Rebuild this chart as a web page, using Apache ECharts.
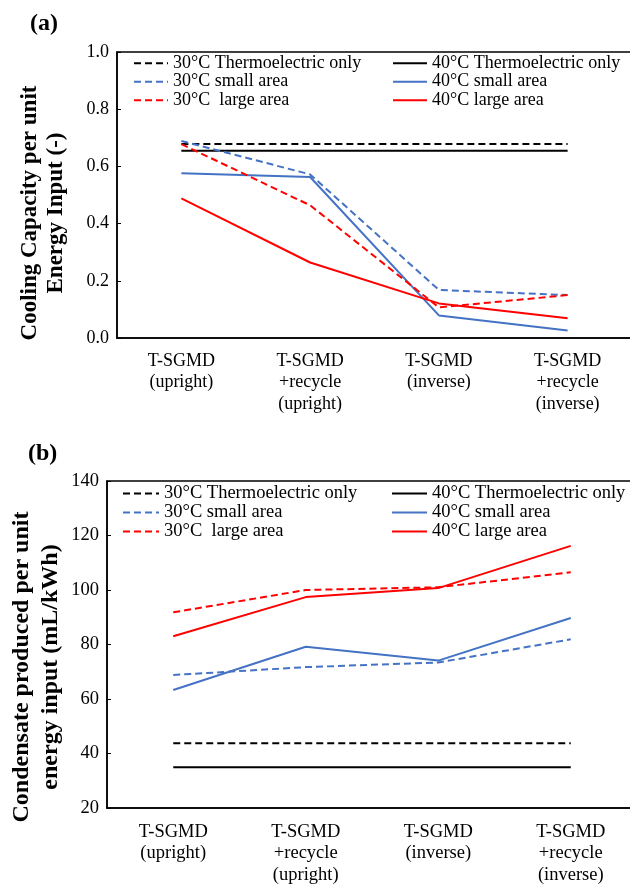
<!DOCTYPE html>
<html lang="en">
<head>
  <meta charset="UTF-8">
  <title>T-SGMD performance</title>
  <script src="https://cdn.jsdelivr.net/npm/echarts@6.0.0/dist/echarts.min.js"></script>
  <style>
    html, body {
      margin: 0;
      padding: 0;
      background: #fff;
    }

    #main {
      width: 630px;
      height: 884px;
    }
  </style>
</head>
<body>
  <div id="main"></div>

  <script type="text/javascript">
    var categories = ['T-SGMD\n(upright)', 'T-SGMD\n+recycle\n(upright)', 'T-SGMD\n(inverse)', 'T-SGMD\n+recycle\n(inverse)'];
    var seriesNames = [
      '30°C Thermoelectric only', '40°C Thermoelectric only',
      '30°C small area', '40°C small area',
      '30°C  large area', '40°C large area'
    ];

    // (a) cooling capacity per unit energy input
    var coolTe30 = [0.678, 0.678, 0.678, 0.678];
    var coolTe40 = [0.655, 0.655, 0.655, 0.655];
    var coolSmall30 = [0.689, 0.572, 0.168, 0.150];
    var coolSmall40 = [0.576, 0.563, 0.079, 0.026];
    var coolLarge30 = [0.678, 0.464, 0.107, 0.150];
    var coolLarge40 = [0.488, 0.264, 0.121, 0.069];
    var coolTicks = [0, 0.2, 0.4, 0.6, 0.8, 1.0];

    // (b) condensate produced per unit energy input
    var condTe30 = [43.8, 43.8, 43.8, 43.8];
    var condTe40 = [35.0, 35.0, 35.0, 35.0];
    var condSmall30 = [68.8, 71.7, 73.4, 81.9];
    var condSmall40 = [63.3, 79.2, 74.1, 89.7];
    var condLarge30 = [91.8, 100.0, 101.0, 106.5];
    var condLarge40 = [83.0, 97.4, 100.7, 116.2];
    var condTicks = [20, 40, 60, 80, 100, 120, 140];

    var serif = '"Liberation Serif", "Times New Roman", serif';
    var colors = ['#000000', '#000000', '#4472C4', '#4472C4', '#FF0000', '#FF0000'];
    var dashed = [true, false, true, false, true, false];

    var myChart = echarts.init(document.getElementById('main'));

    function makeSeries(data, idx) {
      return data.map(function (d, i) {
        return {
          name: seriesNames[i],
          type: 'line',
          xAxisIndex: idx,
          yAxisIndex: idx,
          data: d,
          symbol: 'none',
          silent: true,
          animation: false,
          lineStyle: {
            color: colors[i],
            width: 2,
            type: dashed[i] ? [7, 4] : 'solid'
          },
          itemStyle: { color: colors[i] }
        };
      });
    }

    function makeLegend(names, left, top, size, w) {
      return {
        data: names,
        orient: 'vertical',
        left: left,
        top: top,
        padding: 0,
        itemWidth: w,
        itemHeight: 14,
        itemGap: 0,
        itemTextGap: 3,
        selectedMode: false,
        itemStyle: { opacity: 0 },
        textStyle: { fontFamily: serif, fontSize: size, color: '#000', lineHeight: 18.5 }
      };
    }

    function yAxis(idx, min, max, step, digits, size) {
      return {
        type: 'value',
        gridIndex: idx,
        min: min,
        max: max,
        interval: step,
        axisLine: { show: true, lineStyle: { color: '#000', width: 1.5 } },
        axisTick: { show: true, inside: true, length: 4, lineStyle: { color: '#000' } },
        splitLine: { show: false },
        axisLabel: {
          margin: 8,
          fontFamily: serif,
          fontSize: size,
          color: '#000',
          formatter: function (v) { return v.toFixed(digits); }
        }
      };
    }

    function xAxis(idx, size, margin) {
      return {
        type: 'category',
        gridIndex: idx,
        data: categories,
        boundaryGap: true,
        axisLine: { show: true, lineStyle: { color: '#000', width: 1.5 } },
        axisTick: { show: false },
        axisLabel: {
          interval: 0,
          margin: margin,
          fontFamily: serif,
          fontSize: size,
          lineHeight: 21.7,
          color: '#000'
        }
      };
    }

    var option = {
      backgroundColor: '#fff',
      animation: false,
      grid: [
        { left: 117, top: 52, width: 515, height: 286, outerBoundsMode: 'none', show: true, borderColor: '#000', borderWidth: 1.5, backgroundColor: 'transparent' },
        { left: 107, top: 481, width: 530, height: 327, outerBoundsMode: 'none', show: true, borderColor: '#000', borderWidth: 1.5, backgroundColor: 'transparent' }
      ],
      xAxis: [xAxis(0, 18, 12), xAxis(1, 18.5, 13)],
      yAxis: [
        yAxis(0, coolTicks[0], coolTicks[coolTicks.length - 1], 0.2, 1, 18),
        yAxis(1, condTicks[0], condTicks[condTicks.length - 1], 20, 0, 18.5)
      ],
      legend: [
        makeLegend([seriesNames[0], seriesNames[2], seriesNames[4]], 133, 54, 18, 34),
        makeLegend([seriesNames[1], seriesNames[3], seriesNames[5]], 392, 54, 18, 34),
        makeLegend([seriesNames[0], seriesNames[2], seriesNames[4]], 122, 484, 18.5, 36),
        makeLegend([seriesNames[1], seriesNames[3], seriesNames[5]], 391, 484, 18.5, 35)
      ],
      graphic: [
        { type: 'text', left: 30, top: 12, style: { text: '(a)', font: 'bold 24px ' + serif, fill: '#000' } },
        { type: 'text', left: 28, top: 442, style: { text: '(b)', font: 'bold 24px ' + serif, fill: '#000' } },
        {
          type: 'text', x: 43, y: 213, rotation: Math.PI / 2,
          style: {
            text: 'Cooling Capacity per unit\nEnergy Input (-)',
            font: 'bold 23px ' + serif, fill: '#000',
            align: 'center', verticalAlign: 'middle', lineHeight: 26
          }
        },
        {
          type: 'text', x: 36, y: 667, rotation: Math.PI / 2,
          style: {
            text: 'Condensate produced per unit\nenergy input (mL/kWh)',
            font: 'bold 24px ' + serif, fill: '#000',
            align: 'center', verticalAlign: 'middle', lineHeight: 29
          }
        }
      ],
      series: makeSeries([coolTe30, coolTe40, coolSmall30, coolSmall40, coolLarge30, coolLarge40], 0)
        .concat(makeSeries([condTe30, condTe40, condSmall30, condSmall40, condLarge30, condLarge40], 1))
    };

    myChart.setOption(option);
  </script>
</body>
</html>
